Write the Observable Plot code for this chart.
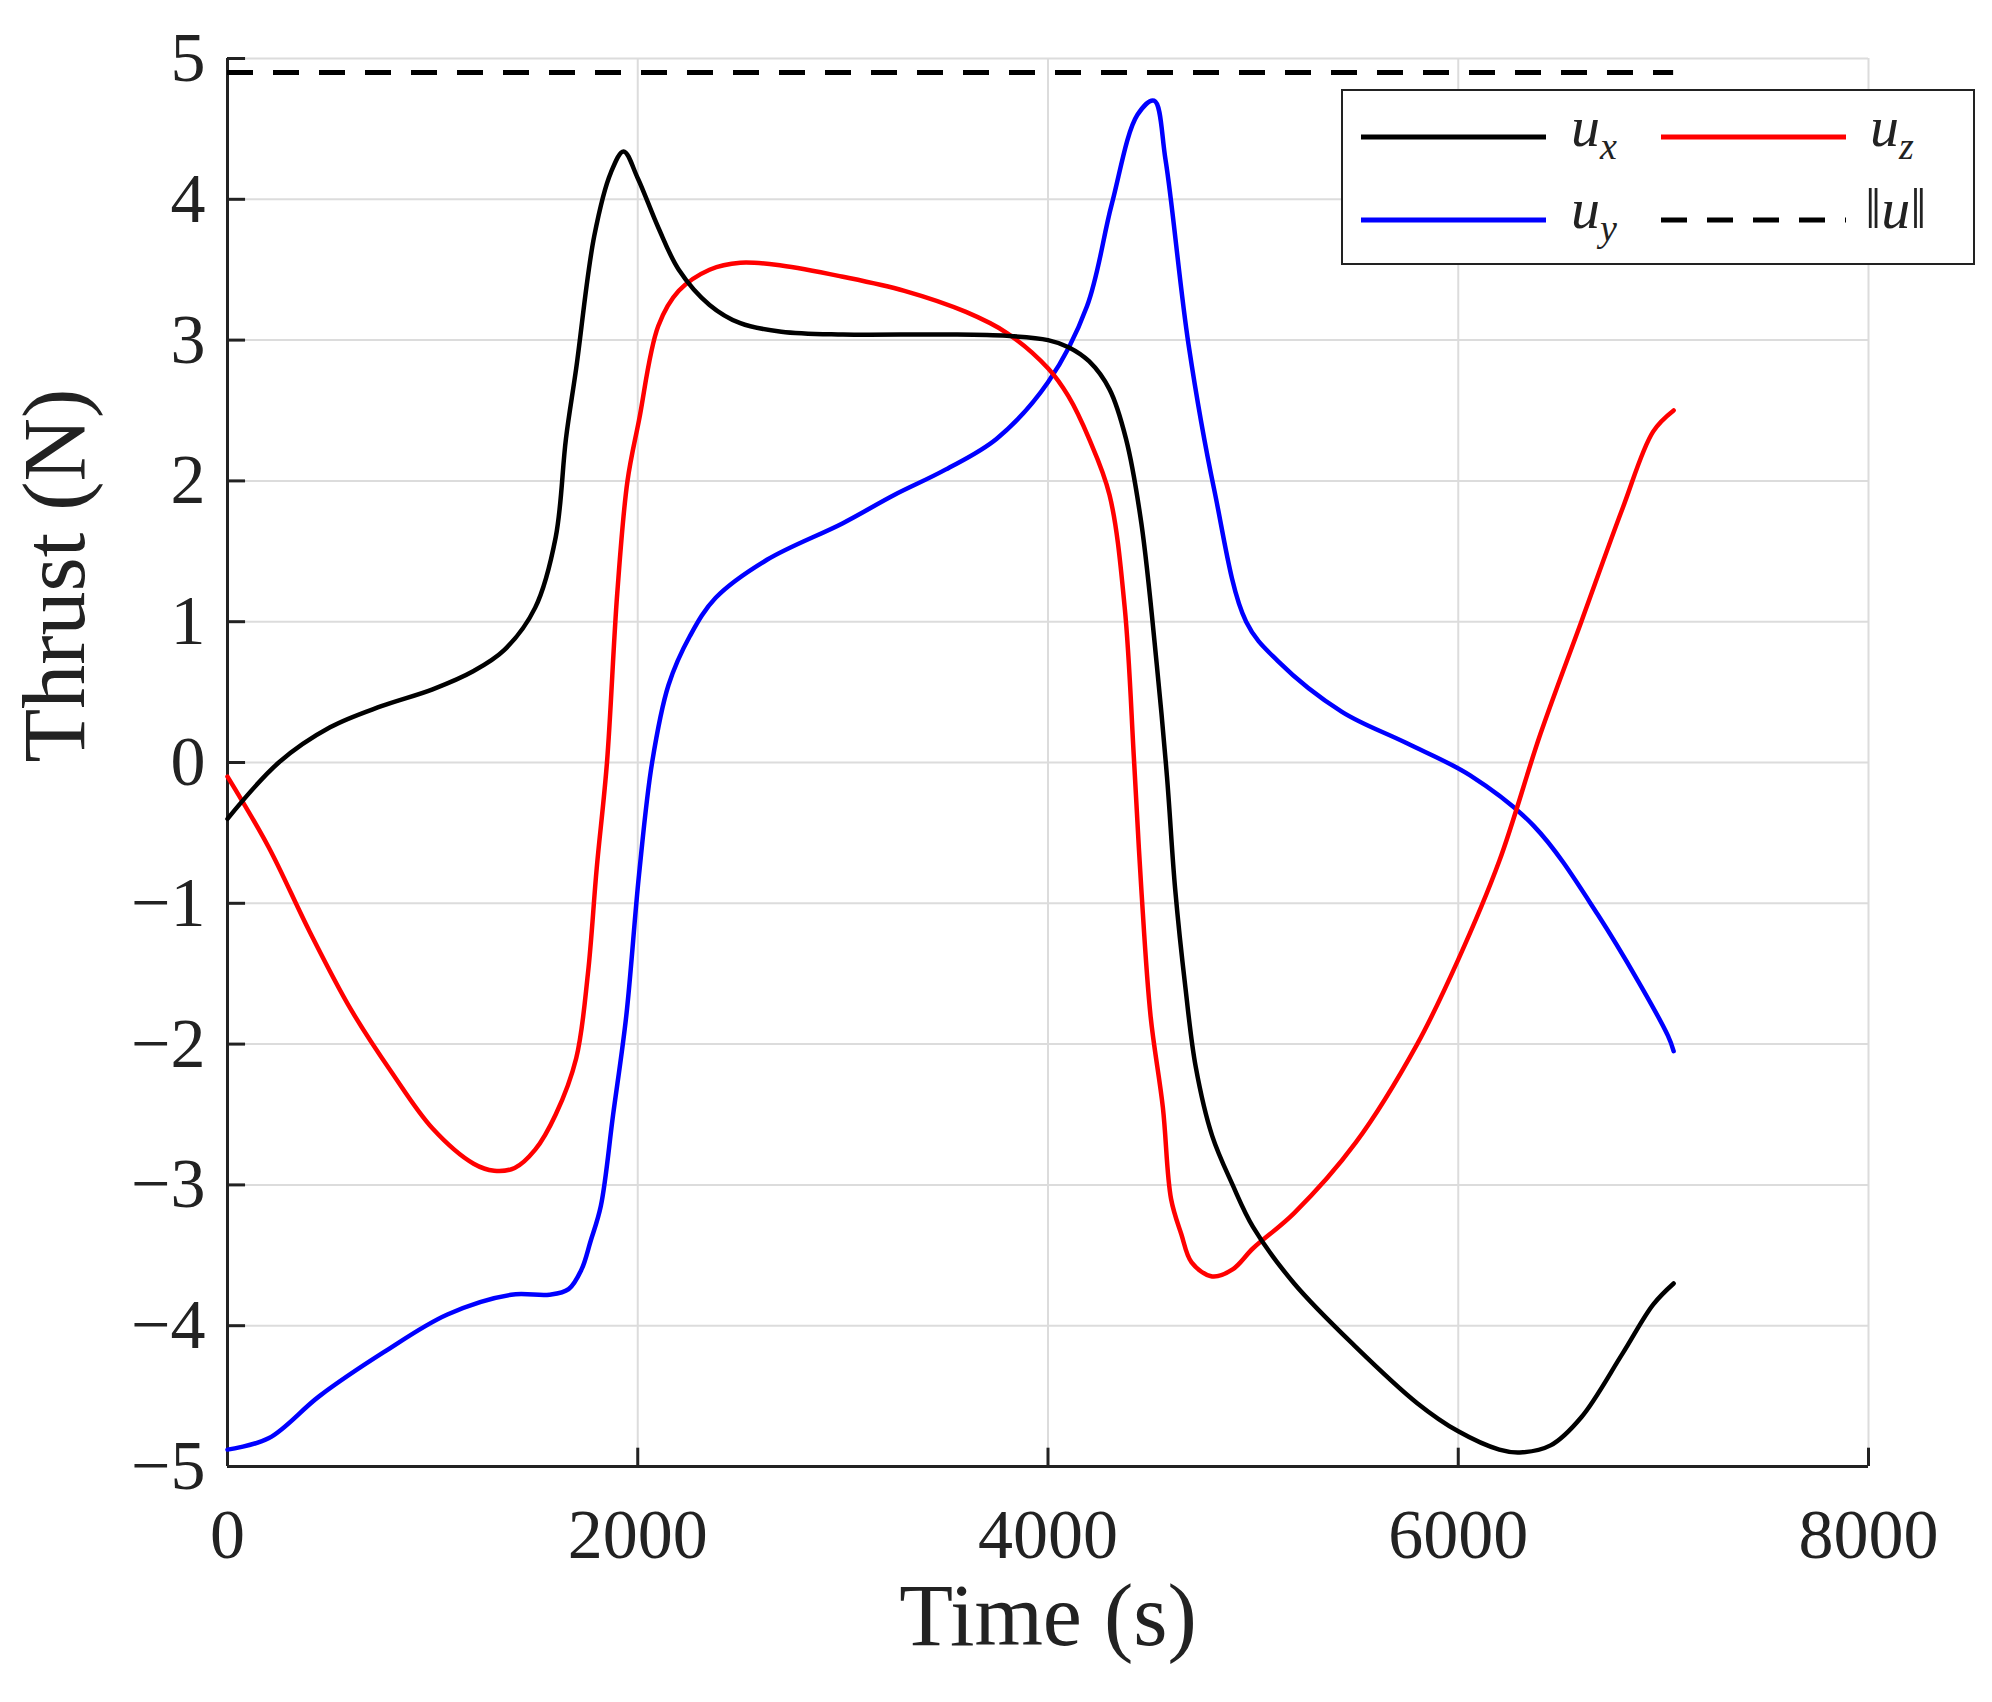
<!DOCTYPE html>
<html><head><meta charset="utf-8">
<script src="https://cdn.jsdelivr.net/npm/d3@7"></script>
<script src="https://cdn.jsdelivr.net/npm/@observablehq/plot@0.6"></script>
<style>
body{margin:0;background:#fff;font-family:"Liberation Serif",serif;}
#wrap{position:relative;width:1992px;height:1702px;}
#chart svg text{font-family:"Liberation Serif",serif !important;}
#legend{position:absolute;left:1341px;top:89px;width:634px;height:176px;border:2.5px solid #222;background:#fff;box-sizing:border-box;font-family:"Liberation Serif",serif;font-size:58px;color:#222;}
#legend .it{position:absolute;}
#legend svg{position:absolute;left:0;top:0;}
sub{font-size:38px;}
</style></head><body>
<div id="wrap"><div id="chart"></div>
<div id="legend">
<svg width="634" height="176">
<line x1="18" x2="203" y1="46" y2="46" stroke="#000" stroke-width="5"/>
<line x1="318" x2="503" y1="46" y2="46" stroke="#ff0000" stroke-width="5"/>
<line x1="18" x2="203" y1="129" y2="129" stroke="#0000ff" stroke-width="5"/>
<line x1="318" x2="503" y1="129" y2="129" stroke="#000" stroke-width="5" stroke-dasharray="26 20"/>
</svg>
<div class="it" style="left:228px;top:2px"><i>u</i><sub><i>x</i></sub></div>
<div class="it" style="left:527px;top:2px"><i>u</i><sub><i>z</i></sub></div>
<div class="it" style="left:228px;top:84px"><i>u</i><sub><i>y</i></sub></div>
<div class="it" style="left:522px;top:84px">‖<i>u</i>‖</div>
</div></div>
<script>
const xTicks=[0,2000,4000,6000,8000];
const yTicks=[-5,-4,-3,-2,-1,0,1,2,3,4,5];
const normLimit=4.9;
const tEnd=7050;
const ux=[[0,-0.4],[250,0.0],[500,0.25],[750,0.4],[1000,0.52],[1200,0.65],[1350,0.8],[1500,1.1],[1600,1.6],[1650,2.3],[1700,2.8],[1788,3.74],[1869,4.19],[1931,4.34],[2000,4.15],[2100,3.8],[2200,3.5],[2350,3.25],[2500,3.12],[2700,3.06],[3000,3.04],[3500,3.04],[3800,3.03],[4000,3.0],[4100,2.95],[4200,2.85],[4300,2.65],[4380,2.3],[4455,1.7],[4530,0.7],[4580,-0.1],[4620,-0.9],[4670,-1.6],[4720,-2.16],[4800,-2.65],[4900,-3.0],[5000,-3.3],[5200,-3.7],[5500,-4.15],[5800,-4.55],[6000,-4.75],[6200,-4.88],[6300,-4.9],[6450,-4.85],[6600,-4.65],[6800,-4.2],[6950,-3.85],[7050,-3.7]];
const uy=[[0,-4.88],[200,-4.8],[448,-4.5],[760,-4.19],[1072,-3.92],[1383,-3.78],[1570,-3.78],[1663,-3.74],[1726,-3.6],[1770,-3.4],[1820,-3.15],[1880,-2.5],[1944,-1.8],[2006,-0.8],[2070,0.0],[2150,0.55],[2255,0.9],[2380,1.17],[2630,1.44],[3000,1.7],[3250,1.9],[3500,2.08],[3750,2.3],[4000,2.7],[4190,3.24],[4310,3.96],[4436,4.6],[4517,4.7],[4573,4.28],[4685,2.97],[4810,1.94],[4966,1.0],[5121,0.72],[5433,0.36],[5745,0.14],[6056,-0.09],[6368,-0.45],[6680,-1.08],[7022,-1.94],[7050,-2.05]];
const uz=[[0,-0.1],[200,-0.6],[400,-1.2],[600,-1.75],[800,-2.2],[1000,-2.6],[1200,-2.85],[1300,-2.9],[1400,-2.88],[1500,-2.75],[1600,-2.5],[1700,-2.1],[1757,-1.5],[1800,-0.75],[1850,0.0],[1900,1.2],[1950,2.0],[2006,2.43],[2100,3.1],[2200,3.35],[2350,3.5],[2500,3.55],[2700,3.53],[3000,3.45],[3300,3.35],[3600,3.2],[3800,3.05],[4000,2.8],[4100,2.6],[4200,2.3],[4300,1.9],[4374,1.1],[4420,0.0],[4455,-0.9],[4500,-1.8],[4560,-2.45],[4600,-3.1],[4650,-3.35],[4700,-3.55],[4800,-3.65],[4900,-3.6],[5000,-3.45],[5200,-3.2],[5500,-2.7],[5800,-2.0],[6000,-1.4],[6200,-0.7],[6400,0.2],[6600,1.0],[6800,1.8],[6950,2.35],[7050,2.5]];
const toObj=a=>a.map(([t,v])=>({t,v}));
const inTick=88, inTickY=0.13;
const F="Liberation Serif, serif";
const yfmt=d=>d<0?"\u2212"+(-d):String(d);
const plot=Plot.plot({
  width:1992,height:1702,
  marginLeft:227,marginRight:124,marginTop:58,marginBottom:236,
  style:{fontFamily:F,fontSize:"70px",color:"#222",background:"#fff"},
  x:{domain:[0,8000],label:null},
  y:{domain:[-5,5],label:null},
  marks:[
    Plot.gridX(xTicks,{stroke:"#dcdcdc",strokeOpacity:1,strokeWidth:2}),
    Plot.gridY(yTicks,{stroke:"#dcdcdc",strokeOpacity:1,strokeWidth:2}),
    Plot.ruleX(xTicks,{y1:-5,y2:-5+inTickY,stroke:"#222",strokeWidth:3}),
    Plot.ruleY(yTicks,{x1:0,x2:inTick,stroke:"#222",strokeWidth:3}),
    Plot.ruleX([0],{stroke:"#222",strokeWidth:3}),
    Plot.ruleY([-5],{stroke:"#222",strokeWidth:3}),
    Plot.ruleY([normLimit],{x1:0,x2:tEnd,stroke:"#000",strokeWidth:5,strokeDasharray:"26 20"}),
    Plot.line(toObj(uy),{x:"t",y:"v",stroke:"#0000ff",strokeWidth:4.5,curve:"catmull-rom"}),
    Plot.line(toObj(uz),{x:"t",y:"v",stroke:"#ff0000",strokeWidth:4.5,curve:"catmull-rom"}),
    Plot.line(toObj(ux),{x:"t",y:"v",stroke:"#000",strokeWidth:4.5,curve:"catmull-rom"}),
    Plot.axisX(xTicks,{tickSize:0,tickPadding:42,fontSize:70,fontFamily:F,tickFormat:d=>String(d),label:null}),
    Plot.axisY(yTicks,{tickSize:0,tickPadding:22,fontSize:70,fontFamily:F,tickFormat:yfmt,label:null}),
    Plot.text(["Time (s)"],{frameAnchor:"bottom",dy:178,fontSize:88,fontFamily:F,fill:"#222"}),
    Plot.text(["Thrust (N)"],{frameAnchor:"left",dx:-172,rotate:-90,fontSize:88,fontFamily:F,fill:"#222"})
  ]
});
document.getElementById("chart").appendChild(plot);
</script></body></html>
